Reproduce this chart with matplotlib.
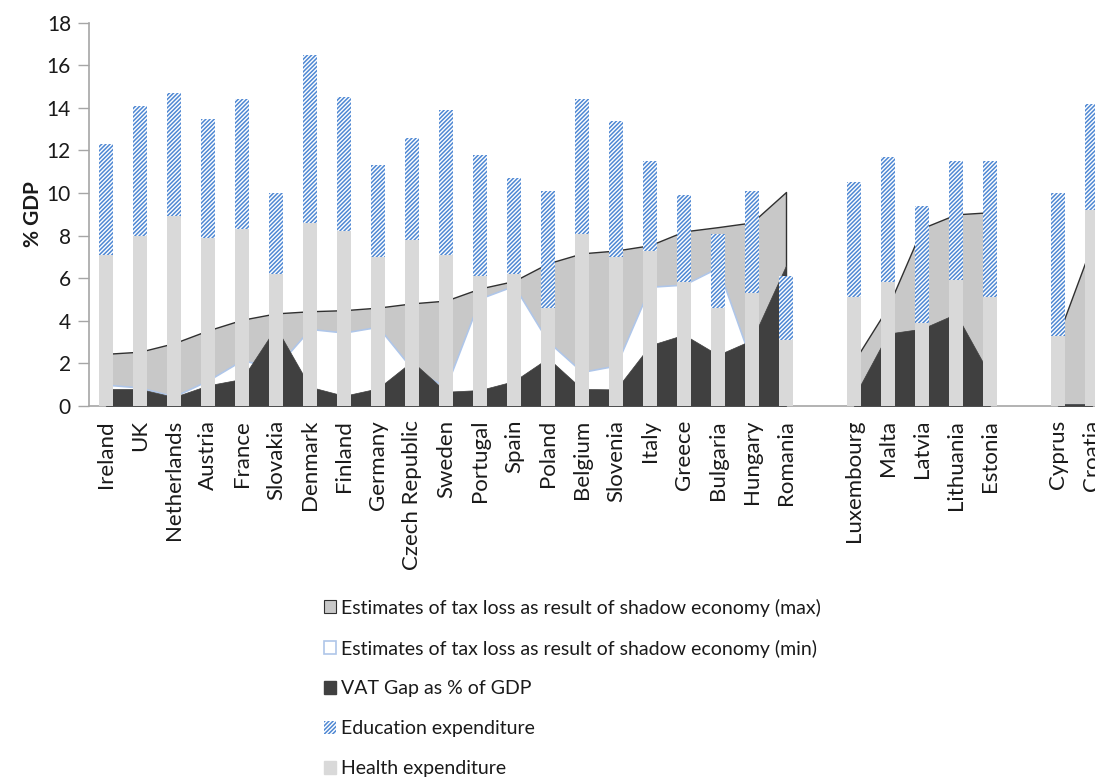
"""
Tax loss from shadow economy vs health and education expenditure (% GDP)
"""
import numpy as np
import matplotlib
matplotlib.use('Agg')
import matplotlib.pyplot as plt
from matplotlib.patches import Patch

plt.rcParams['font.family'] = ['Lato', 'DejaVu Sans']
plt.rcParams['hatch.linewidth'] = 1.1
plt.rcParams['hatch.color'] = '#4F88D3'

# country groups, separated by an empty slot on the axis
group_1 = ['Ireland', 'UK', 'Netherlands', 'Austria', 'France', 'Slovakia',
           'Denmark', 'Finland', 'Germany', 'Czech Republic', 'Sweden',
           'Portugal', 'Spain', 'Poland', 'Belgium', 'Slovenia', 'Italy',
           'Greece', 'Bulgaria', 'Hungary', 'Romania']
group_2 = ['Luxembourg', 'Malta', 'Latvia', 'Lithuania', 'Estonia']
group_3 = ['Cyprus', 'Croatia']

health = [7.1, 8.0, 8.9, 7.9, 8.3, 6.2, 8.6, 8.2, 7.0, 7.8, 7.1,
          6.1, 6.2, 4.6, 8.1, 7.0, 7.3, 5.8, 4.6, 5.3, 3.1,
          5.1, 5.8, 3.9, 5.9, 5.1,
          3.3, 9.2]
education = [5.2, 6.1, 5.8, 5.6, 6.1, 3.8, 7.9, 6.3, 4.3, 4.8, 6.8,
             5.7, 4.5, 5.5, 6.3, 6.4, 4.2, 4.1, 3.5, 4.8, 3.0,
             5.4, 5.9, 5.5, 5.6, 6.4,
             6.7, 5.0]
tax_max = [2.45, 2.55, 2.95, 3.55, 4.05, 4.35, 4.45, 4.5, 4.62, 4.82, 4.95,
           5.52, 5.87, 6.7, 7.17, 7.3, 7.55, 8.2, 8.4, 8.62, 10.05,
           2.1, 4.65, 8.35, 9.0, 9.1,
           3.3, 7.6]
tax_min = [1.0, 0.87, 0.45, 1.2, 2.15, 1.8, 3.62, 3.45, 3.72, 1.75, 0.9,
           5.05, 5.65, 3.03, 1.6, 1.9, 5.6, 5.7, 6.5, 2.0, 3.5,
           0.3, 2.5, 3.0, 3.5, 1.0,
           0.05, 0.05]
vat_gap = [0.8, 0.8, 0.42, 0.97, 1.27, 3.7, 0.9, 0.48, 0.83, 2.1, 0.67,
           0.75, 1.17, 2.25, 0.8, 0.78, 2.85, 3.35, 2.4, 3.1, 6.6,
           0.43, 3.4, 3.63, 4.33, 1.45,
           0.08, 0.08]

C_MAX = '#C8C8C8'
C_MIN_EDGE = '#AFC6E9'
C_VAT = '#404040'
C_HEALTH = '#D9D9D9'
C_TEXT = '#1A1A1A'

groups = [group_1, group_2, group_3]
countries = [c for g in groups for c in g]

# x positions with one empty slot between groups
x = []
spans = []
pos = 0
for g in groups:
    start = len(x)
    for _ in g:
        x.append(pos)
        pos += 1
    spans.append((start, len(x)))
    pos += 1
x = np.array(x, dtype=float)

fig = plt.figure(figsize=(10.95, 7.81), dpi=100)
ax = fig.add_axes([89 / 1095, 1 - 406 / 781, 1 - 89 / 1095, (406 - 22.7) / 781])

for s, e in spans:
    xs = x[s:e]
    ax.fill_between(xs, 0, tax_max[s:e], facecolor=C_MAX, edgecolor='#303030',
                    linewidth=1.0, zorder=1)
    ax.fill_between(xs, 0, tax_min[s:e], facecolor='white', edgecolor=C_MIN_EDGE,
                    linewidth=1.2, zorder=2)
    ax.fill_between(xs, 0, vat_gap[s:e], facecolor=C_VAT, edgecolor=C_VAT,
                    linewidth=0.5, zorder=3)

width = 0.41
ax.bar(x, health, width, color=C_HEALTH, linewidth=0, zorder=4)
ax.bar(x, education, width, bottom=health, facecolor='white',
       edgecolor='#4F88D3', hatch='////////', linewidth=0, zorder=4)

ax.set_xlim(-0.5, -0.5 + (1095 - 89) / 34)
ax.set_ylim(0, 18)
ax.set_yticks(np.arange(0, 19, 2))
ax.set_xticks(x)
ax.set_xticklabels(countries, rotation=90, fontsize=16, color=C_TEXT)
ax.tick_params(axis='x', length=0, pad=10)
ax.tick_params(axis='y', length=8, width=1, color='#A6A6A6', labelsize=15,
               labelcolor=C_TEXT, pad=5)
ax.set_ylabel('% GDP', fontsize=15, fontweight='bold', color=C_TEXT, labelpad=3)

for side in ['top', 'right']:
    ax.spines[side].set_visible(False)
for side in ['left', 'bottom']:
    ax.spines[side].set_color('#A6A6A6')
    ax.spines[side].set_linewidth(1.2)

handles = [
    Patch(facecolor=C_MAX, edgecolor='#303030', linewidth=0.8,
          label='Estimates of tax loss as result of shadow economy (max)'),
    Patch(facecolor='white', edgecolor=C_MIN_EDGE, linewidth=1.2,
          label='Estimates of tax loss as result of shadow economy (min)'),
    Patch(facecolor=C_VAT, edgecolor=C_VAT, label='VAT Gap as % of GDP'),
    Patch(facecolor='white', edgecolor='#4F88D3', hatch='////////', linewidth=0,
          label='Education expenditure'),
    Patch(facecolor=C_HEALTH, edgecolor=C_HEALTH, label='Health expenditure'),
]
fig.legend(handles=handles, loc='upper left', bbox_to_anchor=(314 / 1095, 1 - 589 / 781),
           frameon=False, fontsize=14, labelspacing=1.17, handlelength=0.65,
           handleheight=0.65, handletextpad=0.25, borderpad=0, labelcolor=C_TEXT)

fig.savefig('out.png', dpi=100)
